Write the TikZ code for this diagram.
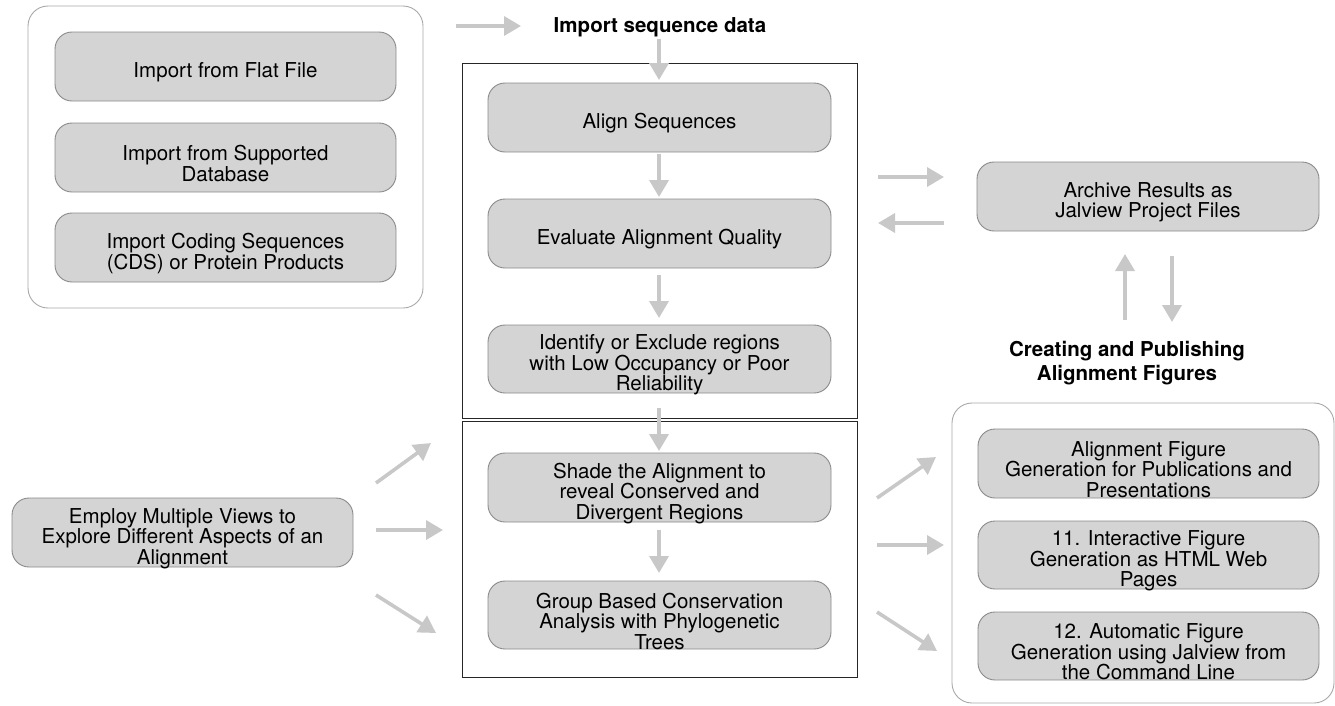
\documentclass[tikz,border=0pt]{standalone}
\usepackage{fontspec}
\setmainfont{TeX Gyre Heros}
\usetikzlibrary{arrows.meta}
\definecolor{boxfill}{HTML}{D4D4D4}
\definecolor{boxline}{HTML}{8A8A8A}
\definecolor{arrowgray}{HTML}{C8C8C8}
\definecolor{groupline}{HTML}{A8A8A8}
\begin{document}
\begin{tikzpicture}[x=1pt,y=-1pt,
  stepbox/.style={draw=boxline, fill=boxfill, line width=0.9pt, rounded corners=17pt,
    inner sep=0pt, minimum width=341pt, minimum height=69pt},
  steptext/.style={align=center, inner sep=0pt, yshift=-6pt,
    font=\fontsize{20.5}{20.5}\selectfont},
  groupbox/.style={draw=groupline, line width=0.9pt, rounded corners=20pt, inner sep=0pt},
  framebox/.style={draw=black!85, line width=1pt, inner sep=0pt, minimum width=395pt},
  titletext/.style={align=center, font=\fontsize{20.5}{24}\selectfont\bfseries},
  flow/.style={draw=arrowgray, line width=3.6pt, -{Triangle[length=17pt,width=19pt]}}
]
\useasboundingbox (0,0) rectangle (1335,705);
% group frames
\node[groupbox, minimum width=395pt, minimum height=302pt] (importgroup) at (225.5,157) {};
\node[groupbox, minimum width=382pt, minimum height=300pt] (figgroup) at (1143,553) {};
\node[framebox, minimum height=355pt] (frameA) at (659.5,240.5) {};
\node[framebox, minimum height=256pt] (frameB) at (659.5,549) {};
% import boxes
\node[stepbox] (flat) at (225.5,66.5) {};
\node[steptext] (flatt) at (flat.center) {Import from Flat File};
\node[stepbox] (db) at (225.5,157.5) {};
\node[steptext] (dbt) at (db.center) {Import from Supported\\Database};
\node[stepbox] (cds) at (225.5,247.5) {};
\node[steptext] (cdst) at (cds.center) {Import Coding Sequences\\(CDS) or Protein Products};
% centre column
\node[stepbox, minimum width=343pt] (align) at (659.5,117.5) {};
\node[steptext] (alignt) at (align.center) {Align Sequences};
\node[stepbox, minimum width=343pt] (eval) at (659.5,233.5) {};
\node[steptext] (evalt) at (eval.center) {Evaluate Alignment Quality};
\node[stepbox, minimum width=343pt, minimum height=68pt] (ident) at (659.5,359) {};
\node[steptext] (identt) at (ident.center) {Identify or Exclude regions\\with Low Occupancy or Poor\\Reliability};
\node[stepbox, minimum width=343pt] (shade) at (659.5,487.5) {};
\node[steptext] (shadet) at (shade.center) {Shade the Alignment to\\reveal Conserved and\\Divergent Regions};
\node[stepbox, minimum width=343pt, minimum height=68pt] (grp) at (659.5,615) {};
\node[steptext] (grpt) at (grp.center) {Group Based Conservation\\Analysis with Phylogenetic\\Trees};
% right side
\node[stepbox, minimum width=342pt] (archive) at (1148,196.5) {};
\node[steptext] (archivet) at (archive.center) {Archive Results as\\Jalview Project Files};
\node[stepbox] (figa) at (1148.5,463.5) {};
\node[steptext] (figat) at (figa.center) {Alignment Figure\\Generation for Publications and\\Presentations};
\node[stepbox, minimum height=68pt] (figb) at (1148.5,555) {};
\node[steptext] (figbt) at (figb.center) {11. Interactive Figure\\Generation as HTML Web\\Pages};
\node[stepbox, minimum height=68pt] (figc) at (1148.5,646) {};
\node[steptext] (figct) at (figc.center) {12. Automatic Figure\\Generation using Jalview from\\the Command Line};
% left
\node[stepbox] (employ) at (182.5,532.5) {};
\node[steptext] (employt) at (employ.center) {Employ Multiple Views to\\Explore Different Aspects of an\\Alignment};
% titles
\node[titletext] (ttlimport) at (660,27) {Import sequence data};
\node[titletext] (ttlfig) at (1127,363) {Creating and Publishing\\Alignment Figures};
% arrow end points
\coordinate (a1s) at (456,26);  \coordinate (a1e) at (521,26);
\coordinate (a2s) at (659,39);  \coordinate (a2e) at (659,80);
\coordinate (a3s) at (659,154); \coordinate (a3e) at (659,197);
\coordinate (a4s) at (659,275); \coordinate (a4e) at (659,318);
\coordinate (a5s) at (659,408); \coordinate (a5e) at (659,451);
\coordinate (a6s) at (659,530); \coordinate (a6e) at (659,573);
\coordinate (r1s) at (878,177); \coordinate (r1e) at (944,177);
\coordinate (r2s) at (944,223); \coordinate (r2e) at (878,223);
\coordinate (v1s) at (1125,320); \coordinate (v1e) at (1125,254);
\coordinate (v2s) at (1172,256); \coordinate (v2e) at (1172,322);
\coordinate (b1s) at (376,483); \coordinate (b1e) at (431,443);
\coordinate (b2s) at (376,530); \coordinate (b2e) at (443,530);
\coordinate (b3s) at (376,595); \coordinate (b3e) at (436,633);
\coordinate (c1s) at (877,498); \coordinate (c1e) at (936,457);
\coordinate (c2s) at (877,545); \coordinate (c2e) at (944,545);
\coordinate (c3s) at (877,612); \coordinate (c3e) at (937,651);
% arrows
\foreach \a in {a1,a2,a3,a4,a5,a6,r1,r2,v1,v2,b1,b2,b3,c1,c2,c3}
  \draw[flow] (\a s) -- (\a e);
\end{tikzpicture}
\end{document}
